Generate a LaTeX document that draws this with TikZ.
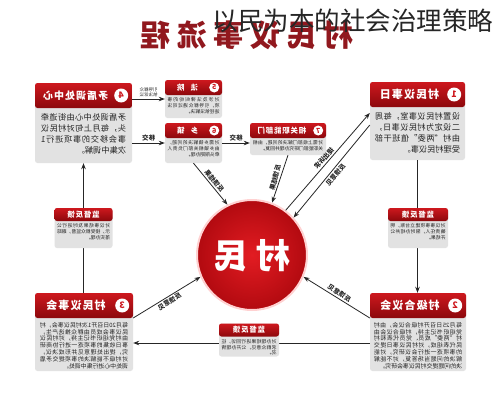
\documentclass[tikz,border=0pt]{standalone}
\usepackage{fontspec}
\setmainfont{Noto Sans CJK SC}
\newfontfamily\hdfont[LetterSpace=10]{Noto Sans CJK SC}
\newfontfamily\ttlfont[LetterSpace=22]{Noto Sans CJK SC}
\XeTeXlinebreaklocale "zh"
\XeTeXlinebreakskip = 0pt plus 1pt
\usetikzlibrary{arrows.meta, positioning}

\definecolor{hdred}{RGB}{205,24,30}
\definecolor{hddark}{RGB}{140,8,12}
\definecolor{panelgray}{RGB}{226,226,226}
\definecolor{titlered}{RGB}{145,24,30}
\definecolor{txtdark}{RGB}{35,35,35}
\definecolor{ballred}{RGB}{226,28,34}
\definecolor{balldark}{RGB}{178,10,16}

\tikzset{
  mir/.style={xscale=-1},
  arr/.style={draw=black!85, line width=0.8pt, -{Stealth[length=6pt, width=4.5pt]}},
  panel/.style={rectangle, fill=panelgray, rounded corners=2.5pt, inner sep=0pt},
  head/.style={rectangle, top color=hdred, bottom color=hddark, rounded corners=2.5pt, inner sep=0pt},
  badge/.style={circle, fill=white, text=hdred, inner sep=0pt, minimum size=14pt,
    font=\bfseries\fontsize{9}{9}\selectfont},
  sbadge/.style={badge, minimum size=10pt, font=\bfseries\fontsize{7}{7}\selectfont},
  htext/.style={text=white, inner sep=0pt, font=\hdfont\bfseries\fontsize{11}{12}\selectfont},
  mtext/.style={text=white, inner sep=0pt, font=\hdfont\bfseries\fontsize{7.5}{8}\selectfont},
  btext/.style={text=txtdark, inner sep=0pt, align=justify, font=\fontsize{8.2}{11.2}\selectfont},
  ctext/.style={text=txtdark, inner sep=0pt, align=justify, font=\fontsize{5.9}{6.8}\selectfont},
  stext/.style={text=txtdark, inner sep=0pt, align=justify, font=\fontsize{4.8}{5.6}\selectfont},
  lbl/.style={inner sep=1.5pt, text=black!85, font=\bfseries\fontsize{6.5}{7}\selectfont},
  tinylbl/.style={inner sep=1pt, align=center, text=black!85, font=\fontsize{4.5}{5}\selectfont},
}

\begin{document}
\begin{tikzpicture}[x=1pt, y=-1pt]
\useasboundingbox (0,0) rectangle (496,400);
\fill[white] (0,0) rectangle (496,400);

% title
\node[mir, text=titlered, font=\ttlfont\bfseries\fontsize{30}{30}\selectfont] (ttl) at (247,35) {村民议事流程};
\node[anchor=east, text=black!85, font=\fontsize{25.5}{26}\selectfont] (olay) at (497,21) {以民为本的社会治理策略};

% 1 村民议事日
\node[panel, minimum width=95pt, minimum height=78pt] (rmy) at (417.5,121) {};
\node[head, minimum width=95pt, minimum height=25pt, anchor=north] (rmyh) at (rmy.north) {};
\node[badge, mir] (rmyb) at ([xshift=-11pt]rmyh.east) {1};
\node[htext, mir] (rmyt) at ([xshift=-8pt]rmyh.center) {村民议事日};
\node[btext, mir, text width=85pt, below=5pt of rmyh] (rmyx) {设置村民议事室，每周二设定为村民议事日，由村“两委”值班干部受理村民议事。};

% 2 村级合议会
\node[panel, minimum width=96pt, minimum height=78pt] (cjh) at (418,332) {};
\node[head, minimum width=96pt, minimum height=25pt, anchor=north] (cjhh) at (cjh.north) {};
\node[badge, mir] (cjhb) at ([xshift=-11pt]cjhh.east) {2};
\node[htext, mir] (cjht) at ([xshift=-8pt]cjhh.center) {村级合议会};
\node[ctext, mir, text width=88pt, below=4pt of cjhh] (cjhx) {每月25日召开村级合议会，由村党组织书记主持，村级合议会由村“两委”成员、党员代表和村民代表组成，对村民议事日提交的事项逐一进行会议研究，对能解决的问题当场答复，对不能解决的问题提交村民议事会研究。};

% 3 村民议事会
\node[panel, minimum width=98pt, minimum height=78pt] (cms) at (84,332) {};
\node[head, minimum width=98pt, minimum height=25pt, anchor=north] (cmsh) at (cms.north) {};
\node[badge, mir] (cmsb) at ([xshift=-11pt]cmsh.east) {3};
\node[htext, mir] (cmst) at ([xshift=-8pt]cmsh.center) {村民议事会};
\node[ctext, mir, text width=88pt, below=4pt of cmsh] (cmsx) {每月20日召开1次村民议事会，村民议事会成员由群众推选产生，由村党组织书记主持，对村民议事日收集的事项逐一进行协商研究，提出处理意见并形成决议，对村级不能解决的事项提交矛盾调处中心进行集中调处。};

% 4 矛盾调处中心
\node[panel, minimum width=97pt, minimum height=80pt] (mdc) at (83.5,123) {};
\node[head, minimum width=97pt, minimum height=25pt, anchor=north] (mdch) at (mdc.north) {};
\node[badge, mir] (mdcb) at ([xshift=-11pt]mdch.east) {4};
\node[htext, mir, font=\hdfont\bfseries\fontsize{10}{11}\selectfont] (mdct) at ([xshift=-8pt]mdch.center) {矛盾调处中心};
\node[btext, mir, text width=85pt, below=5pt of mdch] (mdcx) {矛盾调处中心由街道牵头，每月上旬对村民议事会移交的事项进行1次集中调解。};

% 5 法院
\node[panel, minimum width=57pt, minimum height=38pt] (fy) at (193.5,99) {};
\node[head, minimum width=57pt, minimum height=15pt, anchor=north] (fyh) at (fy.north) {};
\node[sbadge, mir] (fyb) at ([xshift=-8pt]fyh.east) {5};
\node[mtext, mir] (fyt) at ([xshift=-6pt]fyh.center) {法\hspace{6pt}院};
\node[stext, mir, text width=52pt, below=2.5pt of fyh] (fyx) {对涉及法律纠纷的事项，引导群众通过司法途径依法解决。};

% 6 乡镇
\node[panel, minimum width=57pt, minimum height=40pt] (xz) at (193.5,143) {};
\node[head, minimum width=57pt, minimum height=15pt, anchor=north] (xzh) at (xz.north) {};
\node[sbadge, mir] (xzb) at ([xshift=-8pt]xzh.east) {6};
\node[mtext, mir] (xzt) at ([xshift=-6pt]xzh.center) {乡\hspace{6pt}镇};
\node[stext, mir, text width=52pt, below=2.5pt of xzh] (xzx) {对需乡镇解决的问题，由乡镇相关部门负责人牵头限期办理。};

% 7 相关职能部门
\node[panel, minimum width=76pt, minimum height=32pt] (bm) at (288,139) {};
\node[head, minimum width=76pt, minimum height=15pt, anchor=north] (bmh) at (bm.north) {};
\node[sbadge, mir] (bmb) at ([xshift=-8pt]bmh.east) {7};
\node[mtext, mir] (bmt) at ([xshift=-6pt]bmh.center) {相关职能部门};
\node[stext, mir, text width=70pt, below=2.5pt of bmh] (bmx) {对需上级部门解决的问题，由相关职能部门研究办理并回复。};

% 村民
\node[circle, minimum size=110pt, inner sep=0pt, inner color=ballred, outer color=balldark,
  draw=red!18, line width=2pt] (cm) at (252,255) {};
\node[mir, text=white, font=\bfseries\fontsize{34}{34}\selectfont] (cmt) at (252,256) {村\hspace{9pt}民};

% connectors
\draw[arr] (fy.west -| mdc.east) -- (fy.west)
  node[midway, above=1pt, tinylbl, mir] {引导群众\\依法诉讼};
\draw[arr] (xz.west -| mdc.east) -- (xz.west)
  node[midway, above, lbl, mir] {移交};
\draw[arr] (xz.east) -- (xz.east -| bm.west)
  node[midway, above, lbl, mir] {移交};

\draw[arr] (xz.south) -- (cm.116)
  node[midway, lbl, rotate=-50, mir, anchor=south] {反馈结果};
\draw[arr] (bm.south) -- (cm.69)
  node[midway, lbl, rotate=75, mir, anchor=south] {反馈结果};
\draw[arr] (cm.53) -- ([yshift=8pt]rmy.west)
  node[midway, lbl, rotate=49, mir, anchor=south] {提出诉求};
\draw[arr] ([yshift=-4pt]rmy.west) -- (cm.42)
  node[midway, lbl, rotate=50, mir, anchor=north] {反馈意见};
\draw[arr] ([yshift=14pt]cms.east) -- (cm.203)
  node[midway, lbl, rotate=32, mir, anchor=north] {反馈意见};
\draw[arr] ([yshift=14pt]cjh.west) -- (cm.337)
  node[midway, lbl, rotate=-32, mir, anchor=south] {反馈意见};

\draw[arr] (mdc.south |- cms.north) -- (mdc.south);
\draw[arr] (rmy.south) -- (rmy.south |- cjh.north);
\draw[arr] ([yshift=-11pt]cjh.west) -- ([yshift=-11pt]cjh.west -| cms.east);

% 监督反馈
\node[panel, minimum width=58pt, minimum height=40pt] (jd1) at (83.5,228) {};
\node[head, minimum width=58pt, minimum height=13pt, anchor=north] (jd1h) at (jd1.north) {};
\node[mtext, mir] (jd1t) at (jd1h) {监督反馈};
\node[stext, mir, text width=53pt, below=2.5pt of jd1h] (jd1x) {对议事结果及时进行公示，接受群众监督，跟踪落实办理。};

\node[panel, minimum width=60pt, minimum height=40pt] (jd2) at (418,228) {};
\node[head, minimum width=60pt, minimum height=13pt, anchor=north] (jd2h) at (jd2.north) {};
\node[mtext, mir] (jd2t) at (jd2h) {监督反馈};
\node[stext, mir, text width=55pt, below=2.5pt of jd2h] (jd2x) {对议事事项建立台账，明确责任人，限时办结并公开结果。};

\node[panel, minimum width=60pt, minimum height=33pt] (jd3) at (249,340) {};
\node[head, minimum width=60pt, minimum height=13pt, anchor=north] (jd3h) at (jd3.north) {};
\node[mtext, mir] (jd3t) at (jd3h) {监督反馈};
\node[stext, mir, text width=55pt, below=2.5pt of jd3h] (jd3x) {对办理结果进行回访，征求群众意见，公开办理情况。};
\end{tikzpicture}
\end{document}
